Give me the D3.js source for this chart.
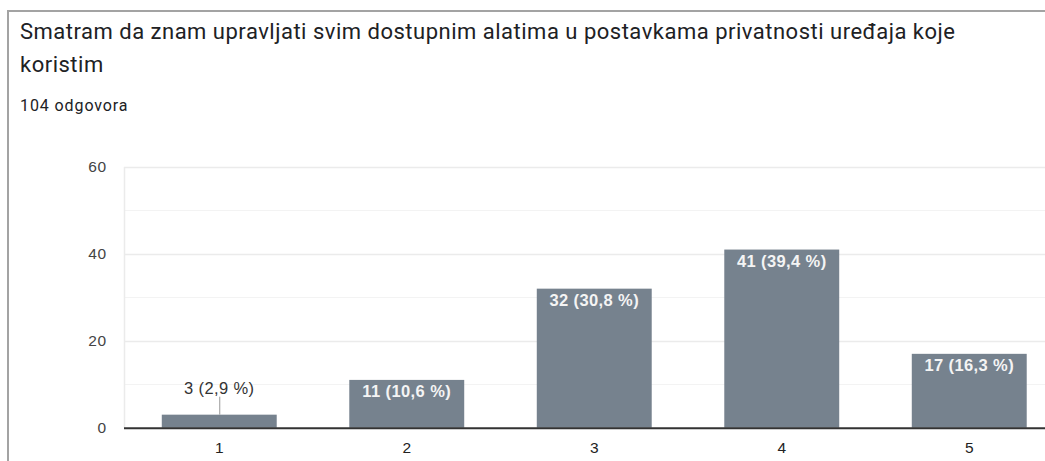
<!DOCTYPE html>
<html>
<head>
<meta charset="utf-8">
<script src="https://cdn.jsdelivr.net/npm/d3@7"></script>
<style>
  body { margin: 0; background: #fff; overflow: hidden; }
  svg { display: block; }
</style>
</head>
<body>
<svg id="svg"></svg>
<script>
const width = 1045;
const height = 461;

// chart data
const title = ["Smatram da znam upravljati svim dostupnim alatima u postavkama privatnosti uređaja koje", "koristim"];
const subtitle = "104 odgovora";
const categories = ["1", "2", "3", "4", "5"];
const counts = [3, 11, 32, 41, 17];
const percents = ["2,9", "10,6", "30,8", "39,4", "16,3"];
const yTicks = [0, 20, 40, 60];

let svg = d3.select("#svg")
    .attr("width", width)
    .attr("height", height);

// card border (top + left only are visible)
svg.append("line")
    .attr("x1", 8).attr("x2", width)
    .attr("y1", 11).attr("y2", 11)
    .attr("stroke", "#a3a3a3").attr("stroke-width", 2);
svg.append("line")
    .attr("x1", 8).attr("x2", 8)
    .attr("y1", 10).attr("y2", height)
    .attr("stroke", "#a3a3a3").attr("stroke-width", 2);

// title
svg.selectAll(".title-line")
    .data(title)
    .enter().append("text")
    .attr("class", "title-line")
    .attr("x", 20)
    .attr("y", (d, i) => 39 + i * 33)
    .style("font-family", "Roboto, sans-serif")
    .style("font-size", "22px")
    .style("letter-spacing", "0.5px")
    .style("fill", "#202124")
    .text(d => d);

svg.append("text")
    .attr("x", 20)
    .attr("y", 111)
    .style("font-family", "Roboto, sans-serif")
    .style("font-size", "16px")
    .style("letter-spacing", "0.9px")
    .style("fill", "#202124")
    .text(subtitle);

const plotLeft = 124;
const plotRight = 1061.5;
const plotTop = 167;
const plotBottom = 427.7;

let xScale = d3.scaleBand()
    .domain(categories)
    .range([plotLeft + 1.5, plotRight + 1.5])
    .paddingInner(0.387)
    .paddingOuter(0.1935);

let yScale = d3.scaleLinear()
    .domain([0, 60])
    .range([plotBottom, plotTop]);

let chart = svg.append("g");

// minor gridlines
chart.selectAll(".minor-grid")
    .data([10, 30, 50])
    .enter().append("line")
    .attr("class", "minor-grid")
    .attr("x1", plotLeft).attr("x2", width)
    .attr("y1", d => Math.round(yScale(d)) + 0.5)
    .attr("y2", d => Math.round(yScale(d)) + 0.5)
    .attr("stroke", "#f3f3f3");

// major gridlines
chart.selectAll(".major-grid")
    .data(yTicks.filter(d => d > 0))
    .enter().append("line")
    .attr("class", "major-grid")
    .attr("x1", plotLeft).attr("x2", width)
    .attr("y1", d => Math.round(yScale(d)) + 0.5)
    .attr("y2", d => Math.round(yScale(d)) + 0.5)
    .attr("stroke", "#ebebeb")
    .attr("stroke-width", 1.5);

// left plot edge
chart.append("line")
    .attr("x1", plotLeft + 0.5).attr("x2", plotLeft + 0.5)
    .attr("y1", plotTop).attr("y2", plotBottom)
    .attr("stroke", "#ebebeb")
    .attr("stroke-width", 1.5);

// y axis labels
const yAxis = chart.append("g")
    .attr("transform", `translate(${plotLeft},0)`)
    .call(d3.axisLeft(yScale).tickValues(yTicks).tickSize(0).tickPadding(17));
yAxis.select(".domain").remove();
yAxis.selectAll("text")
    .style("font-family", "Arial, 'Liberation Sans', sans-serif")
    .style("font-size", "15.5px")
    .style("letter-spacing", "0.8px")
    .style("fill", "#444");

// bars
chart.selectAll(".bar")
    .data(categories)
    .enter().append("rect")
    .attr("class", "bar")
    .attr("x", d => xScale(d))
    .attr("width", xScale.bandwidth())
    .attr("y", (d, i) => yScale(counts[i]))
    .attr("height", (d, i) => plotBottom - yScale(counts[i]))
    .attr("fill", "#76828e");

// x axis
const xAxis = chart.append("g")
    .attr("transform", `translate(0,${plotBottom})`)
    .call(d3.axisBottom(xScale).tickSize(0).tickPadding(14));
xAxis.select(".domain")
    .attr("d", `M${plotLeft},0.5H${width}`)
    .attr("stroke", "#333")
    .attr("stroke-width", 2);
xAxis.selectAll("text")
    .style("font-family", "Arial, 'Liberation Sans', sans-serif")
    .style("font-size", "15.5px")
    .style("fill", "#222");

// value labels
categories.forEach((c, i) => {
    const cx = xScale(c) + xScale.bandwidth() / 2;
    const top = yScale(counts[i]);
    const label = counts[i] + " (" + percents[i] + " %)";
    const inside = (plotBottom - top) > 24;
    if (inside) {
        chart.append("text")
            .attr("x", cx)
            .attr("y", top + 17)
            .attr("text-anchor", "middle")
            .style("font-family", "Arial, 'Liberation Sans', sans-serif")
            .style("font-size", "16.5px")
            .style("letter-spacing", "0.4px")
            .style("font-weight", "bold")
            .style("fill", "#f4f4f4")
            .text(label);
    } else {
        chart.append("line")
            .attr("x1", cx + 0.5).attr("x2", cx + 0.5)
            .attr("y1", top).attr("y2", top - 18)
            .attr("stroke", "#999");
        chart.append("text")
            .attr("x", cx)
            .attr("y", top - 21)
            .attr("text-anchor", "middle")
            .style("font-family", "Arial, 'Liberation Sans', sans-serif")
            .style("font-size", "16.5px")
            .style("letter-spacing", "0.4px")
            .style("fill", "#333")
            .text(label);
    }
});
</script>
</body>
</html>
